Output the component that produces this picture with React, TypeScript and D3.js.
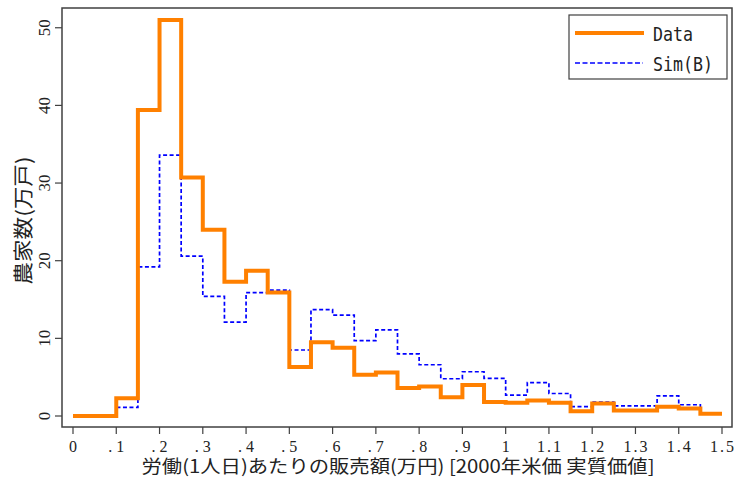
import React from "react";
import * as d3 from "d3";

const binStarts = [0, 0.05, 0.1, 0.15, 0.2, 0.25, 0.3, 0.35, 0.4, 0.45, 0.5, 0.55, 0.6, 0.65, 0.7, 0.75, 0.8, 0.85, 0.9, 0.95, 1.0, 1.05, 1.1, 1.15, 1.2, 1.25, 1.3, 1.35, 1.4, 1.45];
const binEnd = 1.5;
const dataValues = [0, 0, 2.3, 39.4, 51.0, 30.7, 24.0, 17.3, 18.7, 15.9, 6.3, 9.5, 8.8, 5.3, 5.6, 3.6, 3.8, 2.4, 4.0, 1.8, 1.7, 2.0, 1.7, 0.6, 1.6, 0.7, 0.7, 1.2, 0.95, 0.3];
const simValues = [0, 0, 1.1, 19.2, 33.6, 20.6, 15.4, 12.1, 15.9, 16.2, 8.5, 13.7, 13.0, 9.7, 11.1, 8.0, 6.6, 4.8, 5.7, 4.85, 2.7, 4.3, 2.9, 1.2, 1.8, 1.3, 1.3, 2.6, 1.45, 0.3];
const xTicks = [0, 0.1, 0.2, 0.3, 0.4, 0.5, 0.6, 0.7, 0.8, 0.9, 1.0, 1.1, 1.2, 1.3, 1.4, 1.5];
const xTickLabels = ["0", ".1", ".2", ".3", ".4", ".5", ".6", ".7", ".8", ".9", "1", "1.1", "1.2", "1.3", "1.4", "1.5"];
const yTicks = [0, 10, 20, 30, 40, 50];
const seriesNames = ["Data", "Sim(B)"];
const xTitle = "労働(1人日)あたりの販売額(万円) [2000年米価 実質価値]";
const yTitle = "農家数(万戸)";

const W = 737;
const H = 479;
const frame = { left: 62, right: 732, top: 8, bottom: 427 };
const ORANGE = "#FF8000";
const BLUE = "#0000FF";
const FRAME = "#404040";

export default function App() {
  const x = d3.scaleLinear().domain([0, 1.5]).range([73, 722]);
  const y = d3.scaleLinear().domain([0, 50]).range([416, 27.75]);

  const toPts = (vals: number[]) => {
    const pts: [number, number][] = binStarts.map((s, i) => [s, vals[i]]);
    pts.push([binEnd, vals[vals.length - 1]]);
    return pts;
  };
  const line = d3
    .line<[number, number]>()
    .x((d) => x(d[0]))
    .y((d) => y(d[1]))
    .curve(d3.curveStepAfter);

  const dataPath = line(toPts(dataValues)) || "";
  const simPath = line(toPts(simValues)) || "";

  const serif = "'Liberation Serif', 'DejaVu Serif', serif";
  const cjk = "'Noto Sans CJK JP', sans-serif";
  const mono = "'DejaVu Sans Mono', 'Liberation Mono', monospace";

  return (
    <svg
      width={W}
      height={H}
      style={{ position: "absolute", left: 0, top: 0, display: "block", background: "#fff" }}
    >
      <rect x={0} y={0} width={W} height={H} fill="#fff" />
      <rect
        x={frame.left}
        y={frame.top}
        width={frame.right - frame.left}
        height={frame.bottom - frame.top}
        fill="#fff"
        stroke={FRAME}
        strokeWidth={1.5}
      />
      {yTicks.map((t) => (
        <g key={"y" + t}>
          <line x1={frame.left - 7} x2={frame.left} y1={y(t)} y2={y(t)} stroke={FRAME} strokeWidth={1.2} />
          <text
            transform={`translate(50,${y(t)}) rotate(-90)`}
            textAnchor="middle"
            fontFamily={serif}
            fontSize={16}
            fill="#222"
            textLength={String(t).length * 8.5}
            lengthAdjust="spacingAndGlyphs"
          >
            {t}
          </text>
        </g>
      ))}
      {xTicks.map((t, i) => (
        <g key={"x" + i}>
          <line x1={x(t)} x2={x(t)} y1={frame.bottom} y2={frame.bottom + 7} stroke={FRAME} strokeWidth={1.2} />
          <text
            x={x(t)}
            y={452}
            textAnchor="middle"
            fontFamily={serif}
            fontSize={16}
            fill="#222"
            textLength={xTickLabels[i].length * 8}
            lengthAdjust="spacing"
          >
            {xTickLabels[i]}
          </text>
        </g>
      ))}
      <path d={simPath} fill="none" stroke={BLUE} strokeWidth={1.7} strokeDasharray="4,2.5" />
      <path d={dataPath} fill="none" stroke={ORANGE} strokeWidth={4} strokeLinejoin="miter" />
      <text
        x={398}
        y={473}
        textAnchor="middle"
        fontFamily={cjk}
        fontSize={18}
        fill="#222"
        textLength={513}
        lengthAdjust="spacingAndGlyphs"
      >
        {xTitle}
      </text>
      <text
        transform={`translate(31,${(frame.top + frame.bottom) / 2 + 3}) rotate(-90)`}
        textAnchor="middle"
        fontFamily={cjk}
        fontSize={20}
        fill="#222"
        textLength={128}
        lengthAdjust="spacingAndGlyphs"
      >
        {yTitle}
      </text>
      <rect x={569} y={15} width={158} height={64} fill="#fff" stroke={FRAME} strokeWidth={1.2} />
      <line x1={575} x2={644} y1={33} y2={33} stroke={ORANGE} strokeWidth={4} />
      <line x1={575} x2={643} y1={63} y2={63} stroke={BLUE} strokeWidth={1.7} strokeDasharray="5,2.5" />
      <text x={653} y={41} fontFamily={mono} fontSize={19} fill="#222" textLength={40} lengthAdjust="spacingAndGlyphs">
        {seriesNames[0]}
      </text>
      <text x={653} y={71} fontFamily={mono} fontSize={19} fill="#222" textLength={60} lengthAdjust="spacingAndGlyphs">
        {seriesNames[1]}
      </text>
    </svg>
  );
}
